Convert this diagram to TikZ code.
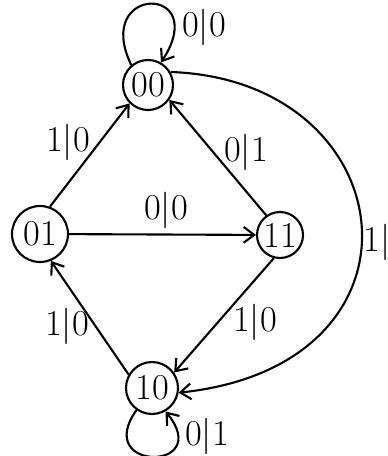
\documentclass[tikz,border=0pt]{standalone}
\usepackage{tikz}
\usetikzlibrary{arrows.meta}

\begin{document}
\begin{tikzpicture}[x=0.02cm, y=-0.02cm, >={Straight Barb[length=6pt, width=9pt]}, line width=1.2pt,
    state/.style={draw, circle, minimum size=1.0cm, inner sep=0pt, font=\huge},
    lbl/.style={font=\huge}]
    \useasboundingbox (0,0) rectangle (388,456);

    % states
    \node[state] (s00) at (148,85) {00};
    \node[state, minimum size=1.12cm] (s01) at (40,234) {01};
    \node[state, minimum size=0.92cm] (s11) at (280,235) {11};
    \node[state, minimum size=1.04cm] (s10) at (152,388) {10};

    % transitions
    \draw[->] (s01.70) -- (s00.225);
    \draw[->] (s11.125) -- (s00.-35);
    \draw[->] (s01) -- (s11);
    \draw[->] (s10.150) -- (s01.-68);
    \draw[->] (s11.-105) -- (s10.35);
    \draw[->] (s00.30) .. controls (405,80) and (442,365) .. (s10.-10);

    % self loops
    \draw[->] (s00.130) .. controls (92,-16) and (212,-16) .. (s00.60);
    \draw[->] (s10.235) .. controls (92,472) and (215,472) .. (s10.300);

    % labels
    \node[lbl] (l0000) at (204,27) {0$|$0};
    \node[lbl] (l0100) at (68,142) {1$|$0};
    \node[lbl] (l1100) at (246,152) {0$|$1};
    \node[lbl] (l0111) at (166,210) {0$|$0};
    \node[lbl] (l1001) at (67,326) {1$|$0};
    \node[lbl] (l1110) at (255,322) {1$|$0};
    \node[lbl] (l0010) at (377,242) {1$|$};
    \node[lbl] (l1010) at (207,436) {0$|$1};
\end{tikzpicture}
\end{document}
